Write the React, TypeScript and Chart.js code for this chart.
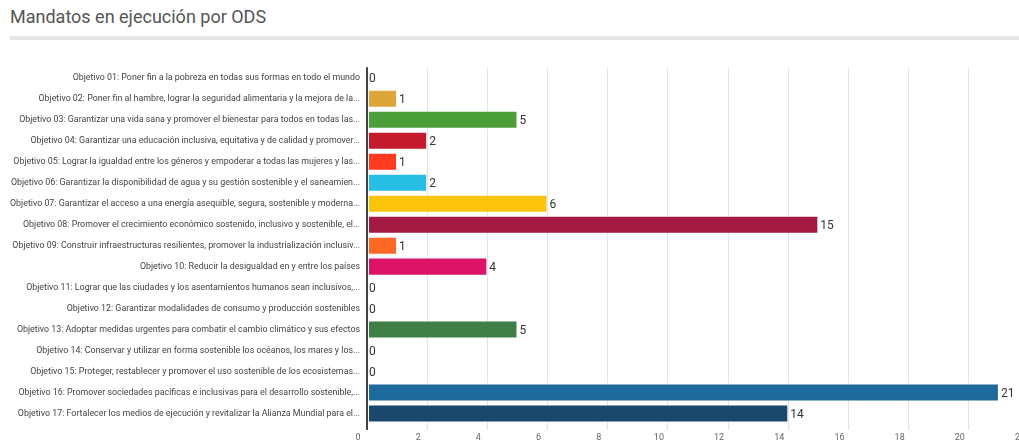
import React, { useEffect, useRef } from "react";
import { Chart, registerables } from "chart.js";

Chart.register(...registerables);

const categories: string[] = [
  "Objetivo 01: Poner fin a la pobreza en todas sus formas en todo el mundo",
  "Objetivo 02: Poner fin al hambre, lograr la seguridad alimentaria y la mejora de la...",
  "Objetivo 03: Garantizar una vida sana y promover el bienestar para todos en todas las...",
  "Objetivo 04: Garantizar una educación inclusiva, equitativa y de calidad y promover...",
  "Objetivo 05: Lograr la igualdad entre los géneros y empoderar a todas las mujeres y las...",
  "Objetivo 06: Garantizar la disponibilidad de agua y su gestión sostenible y el saneamien...",
  "Objetivo 07: Garantizar el acceso a una energía asequible, segura, sostenible y moderna...",
  "Objetivo 08: Promover el crecimiento económico sostenido, inclusivo y sostenible, el...",
  "Objetivo 09: Construir infraestructuras resilientes, promover la industrialización inclusiv...",
  "Objetivo 10: Reducir la desigualdad en y entre los países",
  "Objetivo 11: Lograr que las ciudades y los asentamientos humanos sean inclusivos,...",
  "Objetivo 12: Garantizar modalidades de consumo y producción sostenibles",
  "Objetivo 13: Adoptar medidas urgentes para combatir el cambio climático y sus efectos",
  "Objetivo 14: Conservar y utilizar en forma sostenible los océanos, los mares y los...",
  "Objetivo 15: Proteger, restablecer y promover el uso sostenible de los ecosistemas...",
  "Objetivo 16: Promover sociedades pacíficas e inclusivas para el desarrollo sostenible,...",
  "Objetivo 17: Fortalecer los medios de ejecución y revitalizar la Alianza Mundial para el...",
];

const mandatos: number[] = [0, 1, 5, 2, 1, 2, 6, 15, 1, 4, 0, 0, 5, 0, 0, 21, 14];

const barColors: string[] = [
  "#E5243B", "#DDA63A", "#4C9F38", "#C5192D", "#FF3A21", "#26BDE2", "#FCC30B",
  "#A21942", "#FD6925", "#DD1367", "#FD9D24", "#BF8B2E", "#3F7E44", "#0A97D9",
  "#56C02B", "#1F6A9C", "#19486A",
];

const xMin = 0;
const xMax = 22;
const xStep = 2;

const title = "Mandatos en ejecución por ODS";

const valueLabels = {
  id: "valueLabels",
  afterDatasetsDraw(chart: any) {
    const { ctx } = chart;
    const meta = chart.getDatasetMeta(0);
    ctx.save();
    ctx.font = "12px Roboto";
    ctx.fillStyle = "#333";
    ctx.textAlign = "left";
    ctx.textBaseline = "middle";
    meta.data.forEach((bar: any, i: number) => {
      const v = chart.data.datasets[0].data[i];
      ctx.fillText(String(v), bar.x + 2, bar.y + 1);
    });
    ctx.restore();
  },
};

export default function App() {
  const canvasRef = useRef<HTMLCanvasElement>(null);

  useEffect(() => {
    if (!canvasRef.current) return;
    const chart = new Chart(canvasRef.current, {
      type: "bar",
      data: {
        labels: categories,
        datasets: [
          {
            data: mandatos,
            backgroundColor: barColors,
            borderColor: "rgba(255,255,255,0.45)",
            borderWidth: 1,
            borderSkipped: false,
            barPercentage: 0.86,
            categoryPercentage: 1,
          },
        ],
      },
      options: {
        indexAxis: "y",
        animation: false,
        responsive: false,
        maintainAspectRatio: false,
        layout: { padding: { top: 11, right: 11, left: 0, bottom: 0 } },
        plugins: {
          legend: { display: false },
          tooltip: { enabled: false },
        },
        scales: {
          x: {
            min: xMin,
            max: xMax,
            ticks: {
              stepSize: xStep,
              font: { family: "Roboto", size: 9 },
              color: "#666",
              labelOffset: -9,
              padding: 2,
              maxRotation: 0,
            },
            grid: {
              color: (c: any) => (c.tick && c.tick.value === 0 ? "#444" : "#e4e4e4"),
              lineWidth: (c: any) => (c.tick && c.tick.value === 0 ? 2 : 1),
              drawTicks: true,
              tickLength: 6,
            },
            border: { display: false },
            afterFit: (s: any) => {
              s.height = 18;
            },
          },
          y: {
            ticks: {
              font: { family: "Roboto", size: 8.85 },
              color: "#444",
              padding: 7,
              autoSkip: false,
            },
            grid: { display: false, drawTicks: false },
            border: { display: false },
            afterFit: (s: any) => {
              s.width = 367;
            },
          },
        },
      },
      plugins: [valueLabels],
    });
    return () => chart.destroy();
  }, []);

  return (
    <div
      style={{
        position: "fixed",
        left: 0,
        top: 0,
        width: 1019,
        height: 442,
        overflow: "hidden",
        background: "#fff",
        fontFamily: "Roboto",
      }}
    >
      <div
        style={{
          position: "absolute",
          left: 10,
          top: 6,
          fontSize: 18,
          color: "#555",
          whiteSpace: "nowrap",
        }}
      >
        {title}
      </div>
      <div
        style={{
          position: "absolute",
          left: 10,
          top: 36,
          width: 1009,
          height: 4,
          background: "#e6e6e6",
        }}
      />
      <canvas
        ref={canvasRef}
        width={1040}
        height={387}
        style={{ position: "absolute", left: 0, top: 55, width: 1040, height: 387 }}
      />
    </div>
  );
}
